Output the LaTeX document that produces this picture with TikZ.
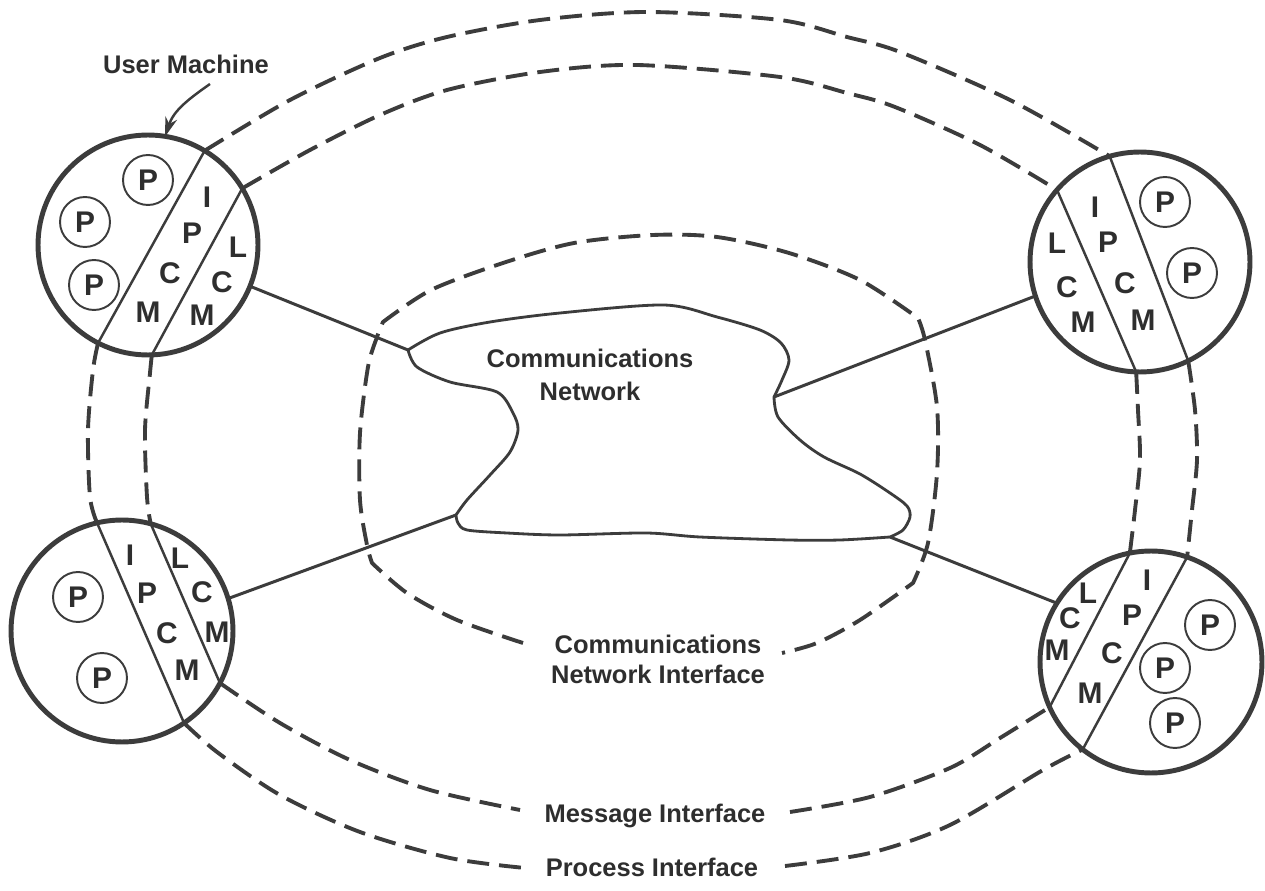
\documentclass[tikz,border=0pt]{standalone}
\usepackage{fontspec}
\setmainfont{Liberation Sans}
\usetikzlibrary{arrows.meta}
\definecolor{ink}{HTML}{3C3C3C}
\definecolor{txt}{HTML}{2E2E2E}
\newcommand{\myletfont}{\fontsize{17}{20}\selectfont\bfseries}
\newcommand{\mylabfont}{\fontsize{14.5}{17}\selectfont\bfseries}
\begin{document}
\begin{tikzpicture}[x=0.02cm,y=-0.02cm,
  mach/.style={circle, draw=ink, line width=2.8pt, minimum size=4.4cm, inner sep=0pt, outer sep=0pt},
  chord/.style={draw=ink, line width=1.4pt},
  proc/.style={circle, draw=ink, line width=1.1pt, minimum size=1.0cm, inner sep=0pt, font=\myletfont, text=txt},
  lett/.style={font=\myletfont, text=txt, inner sep=0pt},
  lbl/.style={font=\mylabfont, text=txt, align=center, inner sep=0pt},
  ifc/.style={draw=ink, line width=2.2pt, dash pattern=on 12.5pt off 5.7pt, line join=round},
  link/.style={draw=ink, line width=1.7pt},
  blob/.style={draw=ink, line width=1.6pt, line join=round},
  pointer/.style={draw=ink, line width=1.4pt, -{Stealth[length=11pt,width=7pt]}}]
\fill[white] (0,0) rectangle (1265,891);
\useasboundingbox (0,0) rectangle (1265,891);

% machines
\node[mach] (tl) at (148,245) {};
\node[mach] (tr) at (1140,262) {};
\node[mach, minimum size=4.44cm] (bl) at (122,631) {};
\node[mach, minimum size=4.44cm] (br) at (1151,662) {};

% chords
\draw[chord] (tl.59.4) -- (tl.243.4);
\draw[chord] (tl.31) -- (tl.272.7);
\draw[chord] (tr.139.1) -- (tr.268.4);
\draw[chord] (tr.106.9) -- (tr.296.3);
\draw[chord] (bl.103.6) -- (bl.304.4);
\draw[chord] (bl.75.6) -- (bl.332.1);
\draw[chord] (br.101.9) -- (br.204.8);
\draw[chord] (br.71.4) -- (br.232.2);

% TL letters
\node[proc] (tlp1) at (148,180) {P};
\node[proc] (tlp2) at (85,222) {P};
\node[proc] (tlp3) at (94,285) {P};
\node[lett] (tli) at (207,197) {I};
\node[lett] (tlp) at (192,233) {P};
\node[lett] (tlc) at (170,273) {C};
\node[lett] (tlm) at (148,312) {M};
\node[lett] (tll2) at (238,247) {L};
\node[lett] (tlc2) at (222,282) {C};
\node[lett] (tlm2) at (202,315) {M};

% TR letters
\node[proc] (trp1) at (1165,202) {P};
\node[proc] (trp2) at (1192,273) {P};
\node[lett] (tri) at (1095,207) {I};
\node[lett] (trp) at (1108,242) {P};
\node[lett] (trc) at (1125,283) {C};
\node[lett] (trm) at (1143,320) {M};
\node[lett] (trl2) at (1057,243) {L};
\node[lett] (trc2) at (1067,287) {C};
\node[lett] (trm2) at (1083,322) {M};

% BL letters
\node[proc] (blp1) at (78,597) {P};
\node[proc] (blp2) at (102,678) {P};
\node[lett] (bli) at (130,555) {I};
\node[lett] (blp) at (147,593) {P};
\node[lett] (blc) at (167,633) {C};
\node[lett] (blm) at (187,670) {M};
\node[lett] (bll2) at (180,558) {L};
\node[lett] (blc2) at (202,592) {C};
\node[lett] (blm2) at (217,632) {M};

% BR letters
\node[proc] (brp1) at (1210,625) {P};
\node[proc] (brp2) at (1165,668) {P};
\node[proc] (brp3) at (1175,723) {P};
\node[lett] (bri) at (1147,580) {I};
\node[lett] (brp) at (1132,615) {P};
\node[lett] (brc) at (1112,653) {C};
\node[lett] (brm) at (1090,693) {M};
\node[lett] (brl2) at (1088,593) {L};
\node[lett] (brc2) at (1070,618) {C};
\node[lett] (brm2) at (1057,650) {M};

% top dashed arcs
\draw[ifc] plot[smooth] coordinates {(tl.59.4) (290,100) (380,58) (447,37) (540,20) (647,12) (780,20) (847,37) (900,52) (1010,100) (tr.106.9)};
\draw[ifc] plot[smooth] coordinates {(tl.31) (310,150) (380,115) (447,90) (540,72) (637,65) (780,77) (847,93) (895,107) (980,145) (tr.139.1)};

% side dashed lines
\draw[ifc] plot[smooth] coordinates {(tl.243.4) (93,370) (88,430) (90,497) (bl.103.6)};
\draw[ifc] plot[smooth] coordinates {(tl.272.7) (150,373) (145,430) (147,497) (bl.75.6)};
\draw[ifc] plot[smooth] coordinates {(tr.268.4) (1138,410) (1140,460) (1135,510) (br.101.9)};
\draw[ifc] plot[smooth] coordinates {(tr.296.3) (1195,410) (1197,460) (1192,510) (br.71.4)};

% bottom dashed arcs
\node[lbl, anchor=base] (mi) at (655,822) {Message Interface};
\node[lbl, anchor=base] (pi) at (652,876) {Process Interface};
\draw[ifc] plot[smooth] coordinates {(bl.332.1) (280,723) (350,760) (430,790) (520,810)};
\draw[ifc] plot[smooth] coordinates {(790,812) (870,797) (950,768) (1000,738) (br.204.8)};
\draw[ifc] plot[smooth] coordinates {(bl.304.4) (217,752) (280,795) (360,832) (450,858) (525,868)};
\draw[ifc] plot[smooth] coordinates {(785,866) (870,853) (950,825) (1043,770) (br.232.2)};

% communications network interface
\draw[ifc] plot[smooth] coordinates {(523,643) (457,620) (407,593) (372,563)}
  -- plot[smooth] coordinates {(372,563) (367,545) (360,500) (360,433) (368,367) (377,337) (383,322)}
  -- plot[smooth] coordinates {(383,322) (431,290) (503,263) (574,243) (653,235) (717,237) (789,253) (860,280) (918,318)}
  -- plot[smooth] coordinates {(918,318) (925,340) (937,407) (937,473) (928,543) (913,583)}
  -- plot[smooth] coordinates {(913,583) (860,620) (817,643) (782,653)};
\node[lbl] (cni) at (658,659) {Communications\\Network Interface};

% network blob
\coordinate (j1) at (408,350);
\coordinate (j2) at (774,397);
\coordinate (j3) at (890,537);
\coordinate (j4) at (456,515);
\draw[blob] plot[smooth] coordinates {(j1) (440,333) (490,322) (560,313) (664,305) (717,317) (760,330) (781,343) (789,360) (782,380) (j2)}
  -- plot[smooth] coordinates {(j2) (778,417) (800,440) (824,457) (860,474) (890,493) (907,506) (910,517) (903,530) (j3)}
  -- plot[smooth] coordinates {(j3) (840,540) (789,540) (700,537) (646,533) (560,535) (507,533) (467,530) (458,523) (j4)}
  -- plot[smooth] coordinates {(j4) (467,500) (490,475) (510,452) (518,430) (513,413) (497,392) (450,382) (417,367) (j1)} -- cycle;
\node[lbl, font=\fontsize{14.5}{19}\selectfont\bfseries] (cn) at (590,375) {Communications\\Network};

% links
\draw[link] (tl.338.2) -- (j1);
\draw[link] (tr.198.6) -- (j2);
\draw[link] (bl.17.2) -- (j4);
\draw[link] (br.148.5) -- (j3);

% user machine label
\node[lbl, anchor=base] (um) at (186,74) {User Machine};
\coordinate (umtail) at (210,84);
\draw[pointer] (umtail) to[out=215,in=72] (tl.81);
\end{tikzpicture}
\end{document}
